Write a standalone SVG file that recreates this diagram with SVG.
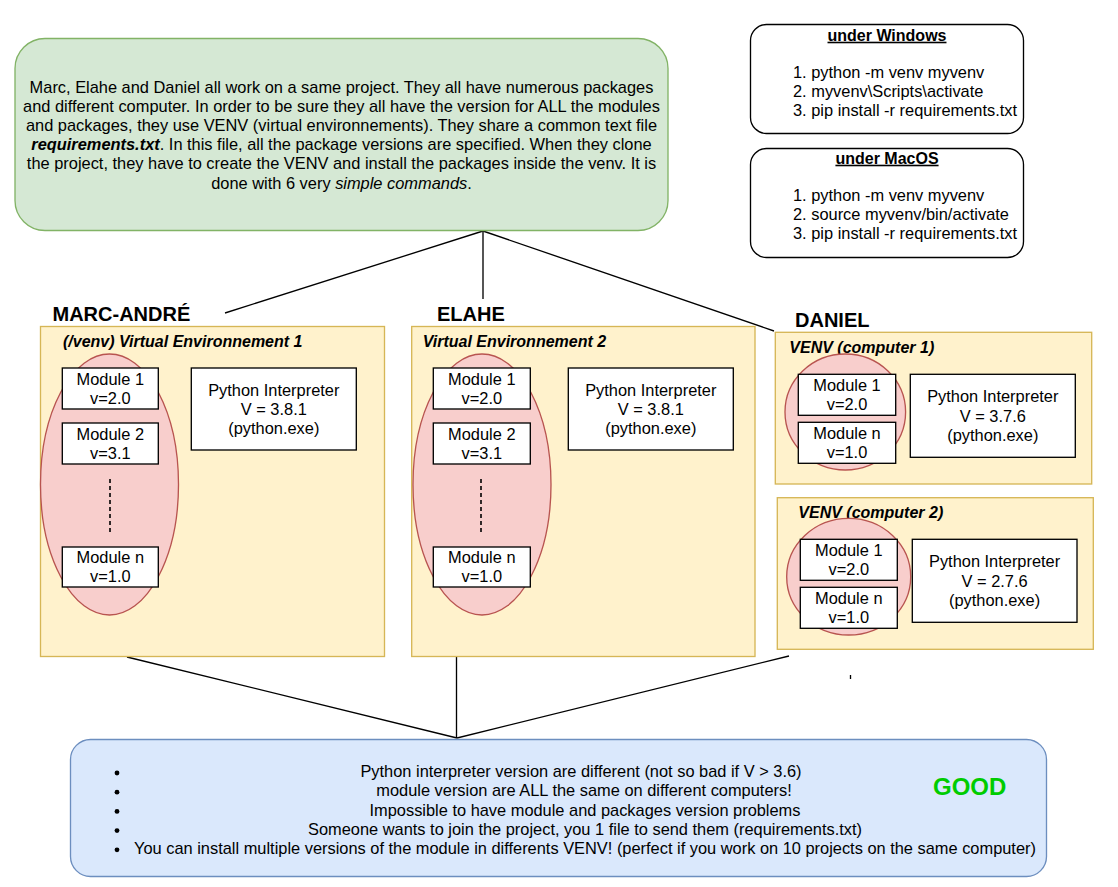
<svg xmlns="http://www.w3.org/2000/svg" width="1118" height="887" viewBox="0 0 1118 887">
<style>
text{font-family:"Liberation Sans",Arial,sans-serif;font-size:16.4px;fill:#000}
.c{text-anchor:middle}
.b{font-weight:bold}
.bi{font-weight:bold;font-style:italic}
.cont{fill:#fff2cc;stroke:#d6b656;stroke-width:1.33}
.ell{fill:#f8cecc;stroke:#b85450;stroke-width:1.33}
.box{fill:#fff;stroke:#000;stroke-width:1.33}
.ln{stroke:#000;stroke-width:1.33;fill:none}
.dash{stroke:#000;stroke-width:1.6;stroke-dasharray:4 3;fill:none}
.lbl{font-weight:bold;font-size:20px}
.t16{font-size:16px}
</style>
<rect width="1118" height="887" fill="#fff"/>

<g id="connectors">
<line class="ln" x1="483" y1="231" x2="225" y2="313"/>
<line class="ln" x1="483" y1="231" x2="483" y2="299"/>
<line class="ln" x1="483" y1="231" x2="774" y2="331"/>
<line class="ln" x1="127" y1="657" x2="457" y2="738"/>
<line class="ln" x1="456.5" y1="656" x2="456.5" y2="738"/>
<line class="ln" x1="789" y1="656" x2="457" y2="738"/>
<line class="ln" x1="850.5" y1="675" x2="850.5" y2="679"/>
</g>

<g id="intro">
<rect x="15" y="38.5" width="653" height="192" rx="30" fill="#d5e8d4" stroke="#82b366" stroke-width="1.33"/>
<text class="c" x="341.5" y="92.5">Marc, Elahe and Daniel all work on a same project. They all have numerous packages</text>
<text class="c" x="341.5" y="111.7">and different computer. In order to be sure they all have the version for ALL the modules</text>
<text class="c" x="341.5" y="130.9">and packages, they use VENV (virtual environnements). They share a common text file</text>
<text class="c" x="341.5" y="150.1"><tspan class="bi">requirements.txt</tspan>. In this file, all the package versions are specified. When they clone</text>
<text class="c" x="341.5" y="169.3">the project, they have to create the VENV and install the packages inside the venv. It is</text>
<text class="c" x="341.5" y="188.5">done with 6 very <tspan font-style="italic">simple commands</tspan>.</text>
</g>

<g id="windows">
<rect x="750.5" y="24.5" width="273" height="109" rx="16" class="box"/>
<text class="c b t16" x="887" y="40.7" text-decoration="underline">under Windows</text>
<text x="793" y="77.5">1. python -m venv myvenv</text>
<text x="793" y="96.5">2. myvenv\Scripts\activate</text>
<text x="793" y="115.5">3. pip install -r requirements.txt</text>
</g>

<g id="macos">
<rect x="750.5" y="148.5" width="273" height="109" rx="16" class="box"/>
<text class="c b t16" x="887" y="163.7" text-decoration="underline">under MacOS</text>
<text x="793" y="200.5">1. python -m venv myvenv</text>
<text x="793" y="219.5">2. source myvenv/bin/activate</text>
<text x="793" y="238.5">3. pip install -r requirements.txt</text>
</g>

<g id="marc">
<text class="lbl" x="52.5" y="320.7">MARC-ANDRÉ</text>
<rect class="cont" x="40.5" y="326.5" width="344" height="330"/>
<text class="bi t16" x="63" y="347">(/venv) Virtual Environnement 1</text>
<ellipse class="ell" cx="109.5" cy="484.5" rx="69" ry="130.5"/>
<rect class="box" x="62.3" y="368" width="96" height="41"/>
<text class="c" x="110.3" y="384.6">Module 1</text>
<text class="c" x="110.3" y="403.8">v=2.0</text>
<rect class="box" x="62.3" y="423" width="96" height="41"/>
<text class="c" x="110.3" y="439.6">Module 2</text>
<text class="c" x="110.3" y="458.8">v=3.1</text>
<line class="dash" x1="110" y1="479" x2="110" y2="533"/>
<rect class="box" x="62.3" y="547" width="96" height="40"/>
<text class="c" x="110.3" y="563.1">Module n</text>
<text class="c" x="110.3" y="582.3">v=1.0</text>
<rect class="box" x="191.3" y="368" width="165" height="82"/>
<text class="c" x="273.8" y="395.5">Python Interpreter</text>
<text class="c" x="273.8" y="414.7">V = 3.8.1</text>
<text class="c" x="273.8" y="433.9">(python.exe)</text>
</g>

<g id="elahe">
<text class="lbl" x="437" y="320.7">ELAHE</text>
<rect class="cont" x="411.7" y="326.5" width="343.3" height="330"/>
<text class="bi t16" x="422.7" y="346.7">Virtual Environnement 2</text>
<ellipse class="ell" cx="482" cy="484.5" rx="69" ry="130.5"/>
<rect class="box" x="433.3" y="368" width="97" height="41"/>
<text class="c" x="481.8" y="384.6">Module 1</text>
<text class="c" x="481.8" y="403.8">v=2.0</text>
<rect class="box" x="433.3" y="423" width="97" height="41"/>
<text class="c" x="481.8" y="439.6">Module 2</text>
<text class="c" x="481.8" y="458.8">v=3.1</text>
<line class="dash" x1="481" y1="479" x2="481" y2="533"/>
<rect class="box" x="433.3" y="547" width="97" height="40"/>
<text class="c" x="481.8" y="563.1">Module n</text>
<text class="c" x="481.8" y="582.3">v=1.0</text>
<rect class="box" x="568.3" y="368" width="165" height="82"/>
<text class="c" x="650.8" y="395.5">Python Interpreter</text>
<text class="c" x="650.8" y="414.7">V = 3.8.1</text>
<text class="c" x="650.8" y="433.9">(python.exe)</text>
</g>

<g id="daniel">
<text class="lbl" x="795" y="326.7">DANIEL</text>
</g>

<g id="daniel-computer1">
<rect class="cont" x="775.3" y="332.3" width="316.4" height="151.7"/>
<text class="bi t16" x="789.3" y="353.3">VENV (computer 1)</text>
<ellipse class="ell" cx="845.3" cy="412" rx="60.3" ry="58"/>
<rect class="box" x="798.3" y="374.3" width="97.4" height="41"/>
<text class="c" x="847" y="390.9">Module 1</text>
<text class="c" x="847" y="410.1">v=2.0</text>
<rect class="box" x="798.3" y="422.3" width="97.4" height="41"/>
<text class="c" x="847" y="438.9">Module n</text>
<text class="c" x="847" y="458.1">v=1.0</text>
<rect class="box" x="910.3" y="374.3" width="165" height="83"/>
<text class="c" x="992.8" y="402.3">Python Interpreter</text>
<text class="c" x="992.8" y="421.5">V = 3.7.6</text>
<text class="c" x="992.8" y="440.7">(python.exe)</text>
</g>

<g id="daniel-computer2">
<rect class="cont" x="777.3" y="497.7" width="316" height="151.6"/>
<text class="bi t16" x="798.3" y="518.3">VENV (computer 2)</text>
<ellipse class="ell" cx="848.7" cy="576.7" rx="62" ry="58.3"/>
<rect class="box" x="800.3" y="539.3" width="97" height="41"/>
<text class="c" x="848.8" y="555.9">Module 1</text>
<text class="c" x="848.8" y="575.1">v=2.0</text>
<rect class="box" x="800.3" y="587.3" width="97" height="41"/>
<text class="c" x="848.8" y="603.9">Module n</text>
<text class="c" x="848.8" y="623.1">v=1.0</text>
<rect class="box" x="912.3" y="539.3" width="164.7" height="83"/>
<text class="c" x="994.6" y="567.3">Python Interpreter</text>
<text class="c" x="994.6" y="586.5">V = 2.7.6</text>
<text class="c" x="994.6" y="605.7">(python.exe)</text>
</g>

<g id="summary">
<rect x="70.5" y="739.5" width="976" height="137" rx="20" fill="#dae8fc" stroke="#6c8ebf" stroke-width="1.33"/>
<circle cx="117" cy="773" r="2.4"/>
<circle cx="117" cy="792.2" r="2.4"/>
<circle cx="117" cy="811.4" r="2.4"/>
<circle cx="117" cy="830.6" r="2.4"/>
<circle cx="117" cy="849.8" r="2.4"/>
<text class="c" x="581" y="777.2">Python interpreter version are different (not so bad if V &gt; 3.6)</text>
<text class="c" x="584" y="796.4">module version are ALL the same on different computers!</text>
<text class="c" x="585" y="815.6">Impossible to have module and packages version problems</text>
<text class="c" x="585" y="834.8">Someone wants to join the project, you 1 file to send them (requirements.txt)</text>
<text class="c" x="585" y="854">You can install multiple versions of the module in differents VENV! (perfect if you work on 10 projects on the same computer)</text>
<text class="b" x="933" y="795" style="font-size:24px;fill:#00cc00">GOOD</text>
</g>
</svg>
